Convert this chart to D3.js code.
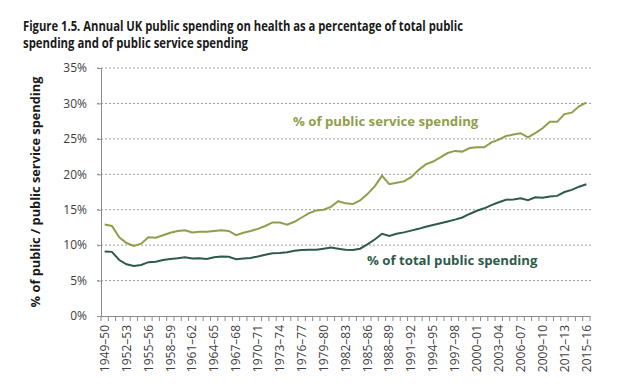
<!DOCTYPE html>
<html>
<head>
<meta charset="utf-8">
<script src="https://cdn.jsdelivr.net/npm/d3@7"></script>
<style>
  body { margin: 0; background: #fff; }
  svg { display: block; font-family: "Open Sans", sans-serif; }
</style>
</head>
<body>
<svg id="chart" width="621" height="385"></svg>
<script>
// financial years 1949–50 .. 2015–16
const startYears = d3.range(1949, 2016);
const categories = startYears.map(y => `${y}–${String((y + 1) % 100).padStart(2, "0")}`);

// health spending as % of public service spending
const serviceShare = [
  12.9, 12.7, 11.1, 10.3, 9.9, 10.2, 11.1, 11.05, 11.4, 11.75,
  12.0, 12.1, 11.8, 11.9, 11.9, 12.0, 12.1, 12.0, 11.4, 11.75,
  12.0, 12.3, 12.7, 13.2, 13.2, 12.9, 13.3, 13.9, 14.5, 14.9,
  15.0, 15.4, 16.2, 15.9, 15.8, 16.3, 17.2, 18.3, 19.8, 18.6,
  18.8, 19.0, 19.6, 20.6, 21.4, 21.8, 22.4, 23.0, 23.3, 23.2,
  23.7, 23.8, 23.8, 24.5, 24.9, 25.4, 25.6, 25.8, 25.2, 25.8,
  26.5, 27.4, 27.4, 28.5, 28.7, 29.6, 30.1
];

// health spending as % of total public spending
const totalShare = [
  9.1, 9.05, 7.9, 7.3, 7.05, 7.2, 7.6, 7.65, 7.9, 8.05,
  8.15, 8.3, 8.1, 8.15, 8.05, 8.3, 8.4, 8.35, 8.0, 8.1,
  8.2, 8.4, 8.65, 8.85, 8.9, 9.0, 9.2, 9.3, 9.35, 9.35,
  9.5, 9.65, 9.5, 9.35, 9.3, 9.5, 10.1, 10.8, 11.6, 11.3,
  11.6, 11.8, 12.05, 12.3, 12.6, 12.85, 13.1, 13.35, 13.6, 13.9,
  14.4, 14.85, 15.2, 15.65, 16.05, 16.4, 16.45, 16.6, 16.35, 16.75,
  16.7, 16.85, 16.95, 17.5, 17.8, 18.25, 18.6
];

const yTicks = [0, 5, 10, 15, 20, 25, 30, 35];

const svg = d3.select("#chart");
const m = { left: 101, right: 590, top: 68, bottom: 316 };
const lightCol = "#8f9e4b", darkCol = "#2e5a4a", axisCol = "#8c8c8c", textCol = "#404040";

const x = d3.scaleBand().domain(categories).range([m.left, m.right]);
const y = d3.scaleLinear().domain([0, 35]).range([m.bottom, m.top]);

// title
const title = svg.append("g").attr("font-weight", 700).attr("font-size", 13.5).attr("fill", "#1a1a1a");
title.append("text").attr("x", 23).attr("y", 31)
  .attr("textLength", 440).attr("lengthAdjust", "spacingAndGlyphs")
  .text("Figure 1.5. Annual UK public spending on health as a percentage of total public");
title.append("text").attr("x", 23).attr("y", 48)
  .attr("textLength", 225).attr("lengthAdjust", "spacingAndGlyphs")
  .text("spending and of public service spending");

// gridlines
svg.append("g")
  .selectAll("line")
  .data(yTicks.filter(d => d > 0))
  .join("line")
  .attr("x1", m.left - 4).attr("x2", m.right + 1)
  .attr("y1", d => y(d)).attr("y2", d => y(d))
  .attr("stroke", "#9a9a9a").attr("stroke-width", 1)
  .attr("stroke-dasharray", "2,2");

// y axis
const yAxis = svg.append("g")
  .attr("transform", `translate(${m.left},0)`)
  .call(d3.axisLeft(y).tickValues(yTicks).tickSize(4).tickFormat(d => d + "%"));
yAxis.select(".domain").attr("stroke", axisCol);
yAxis.selectAll(".tick line").attr("stroke", axisCol);
yAxis.selectAll("text").attr("fill", textCol).attr("font-size", 12)
  .attr("font-family", "Open Sans").attr("x", -14);

// x axis: labels every 3rd year, tick marks at category boundaries
const xAxis = svg.append("g")
  .attr("transform", `translate(0,${m.bottom})`)
  .call(d3.axisBottom(x).tickValues(categories.filter((d, i) => i % 3 === 0)).tickSize(0));
xAxis.select(".domain").attr("stroke", axisCol);
xAxis.selectAll("text")
  .attr("fill", textCol).attr("font-size", 12).attr("font-family", "Open Sans")
  .attr("transform", "rotate(-90)")
  .attr("text-anchor", "end")
  .attr("x", -9).attr("y", 0).attr("dy", "0.35em");

const bounds = categories.map(c => x(c)).concat([x.range()[1]]);
svg.append("g")
  .selectAll("line")
  .data(bounds)
  .join("line")
  .attr("x1", d => d).attr("x2", d => d)
  .attr("y1", m.bottom).attr("y2", m.bottom + 5)
  .attr("stroke", axisCol);

// y axis title
svg.append("text")
  .attr("transform", `translate(40,${(m.top + m.bottom) / 2}) rotate(-90)`)
  .attr("text-anchor", "middle")
  .attr("font-weight", 700).attr("font-size", 12.8).attr("fill", "#1a1a1a")
  .text("% of public / public service spending");

// lines
const line = data => d3.line()
  .x((d, i) => x(categories[i]) + x.bandwidth() / 2)
  .y(d => y(d))(data);

svg.append("path").attr("d", line(serviceShare))
  .attr("fill", "none").attr("stroke", lightCol).attr("stroke-width", 2);
svg.append("path").attr("d", line(totalShare))
  .attr("fill", "none").attr("stroke", darkCol).attr("stroke-width", 2);

// series labels
svg.append("text").attr("x", 293).attr("y", 126)
  .attr("font-weight", 700).attr("font-size", 13.2).attr("fill", lightCol)
  .text("% of public service spending");
svg.append("text").attr("x", 367).attr("y", 265)
  .attr("font-weight", 700).attr("font-size", 13.2).attr("fill", darkCol)
  .text("% of total public spending");
</script>
</body>
</html>
